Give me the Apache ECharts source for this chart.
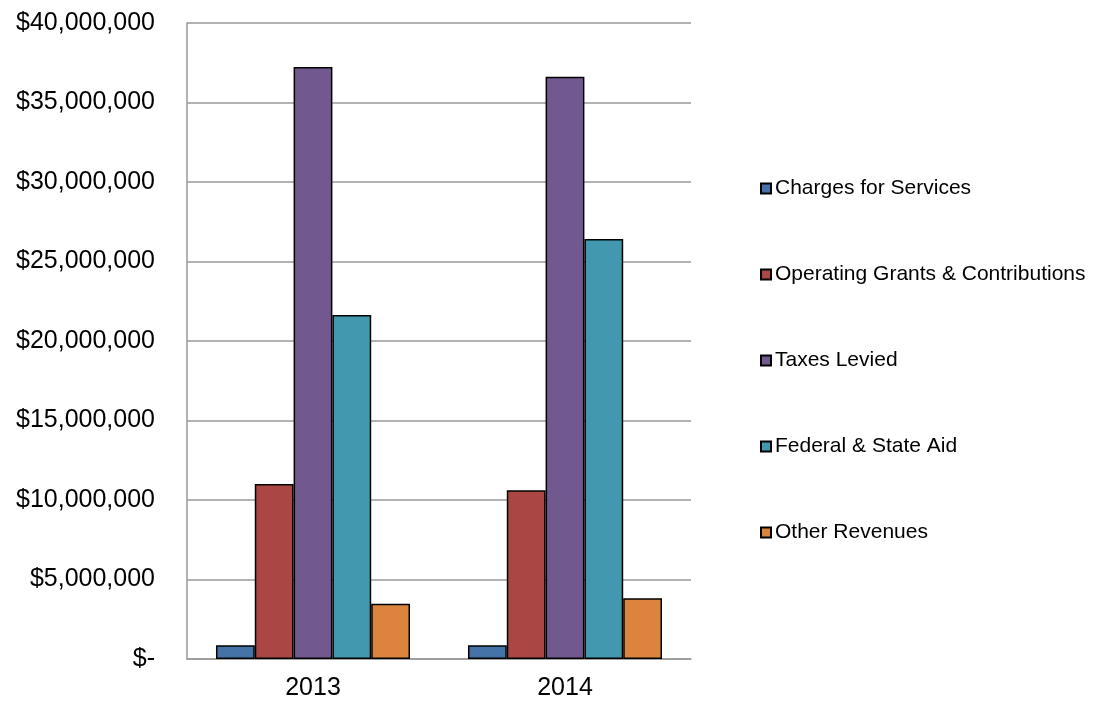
<!DOCTYPE html>
<html>
<head>
<meta charset="utf-8">
<script src="https://cdn.jsdelivr.net/npm/echarts@6/dist/echarts.min.js"></script>
<style>
  html, body { margin: 0; padding: 0; background: #fff; }
  #main { width: 1095px; height: 704px; }
</style>
</head>
<body>
<div id="main"></div>
<script>
// years on the x axis
var years = ['2013', '2014'];

// revenue by source, in dollars
var chargesForServices = [860000, 860000];
var operatingGrants = [11000000, 10620000];
var taxesLevied = [37230000, 36620000];
var federalStateAid = [21640000, 26420000];
var otherRevenues = [3480000, 3820000];

var seriesNames = ['Charges for Services', 'Operating Grants & Contributions', 'Taxes Levied', 'Federal & State Aid', 'Other Revenues'];
var seriesColors = ['#4572A7', '#AA4643', '#71588F', '#4198AF', '#DB843D'];
var seriesData = [chargesForServices, operatingGrants, taxesLevied, federalStateAid, otherRevenues];

function dollars(v) {
  if (v === 0) return '$-';
  return '$' + v.toString().replace(/\B(?=(\d{3})+(?!\d))/g, ',');
}

var chart = echarts.init(document.getElementById('main'));

var series = seriesNames.map(function (name, i) {
  return {
    name: name,
    type: 'bar',
    data: seriesData[i],
    barGap: '0%',
    barCategoryGap: '23%',
    itemStyle: {
      color: seriesColors[i],
      borderColor: '#000',
      borderWidth: 1.5
    }
  };
});

var option = {
  backgroundColor: '#fff',
  animation: false,
  grid: {
    left: 187,
    right: 404,
    top: 23,
    bottom: 45
  },
  legend: {
    orient: 'vertical',
    left: 755,
    top: 173,
    itemWidth: 10,
    itemHeight: 10,
    itemGap: 65,
    icon: 'rect',
    textStyle: {
      fontFamily: 'Liberation Sans, Arial',
      fontSize: 21,
      color: '#000',
      padding: [0, 0, 0, -1]
    },
    data: seriesNames
  },
  xAxis: {
    type: 'category',
    data: years,
    axisLine: { lineStyle: { color: '#999', width: 1.5 } },
    axisTick: { show: false },
    axisLabel: {
      margin: 17,
      fontFamily: 'Liberation Sans, Arial',
      fontSize: 25,
      color: '#000'
    }
  },
  yAxis: {
    type: 'value',
    min: 0,
    max: 40000000,
    interval: 5000000,
    axisLine: { show: true, lineStyle: { color: '#999', width: 1.5 } },
    axisTick: { show: false },
    splitLine: { lineStyle: { color: '#999', width: 1.5 } },
    axisLabel: {
      margin: 32,
      fontFamily: 'Liberation Sans, Arial',
      fontSize: 25,
      color: '#000',
      formatter: dollars
    }
  },
  series: series
};

chart.setOption(option);
</script>
</body>
</html>
